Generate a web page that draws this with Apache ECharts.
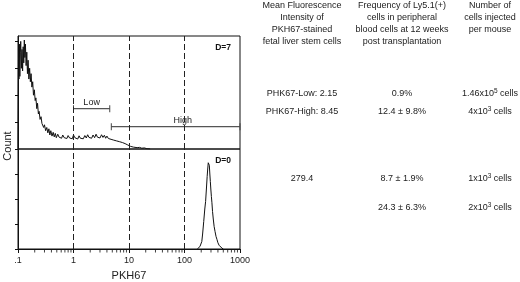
<!DOCTYPE html>
<html>
<head>
<meta charset="utf-8">
<script src="https://cdn.jsdelivr.net/npm/echarts@6/dist/echarts.min.js"></script>
<style>
  html, body { margin: 0; padding: 0; background: #fff; }
  #chart { width: 520px; height: 282px; }
</style>
</head>
<body>
<div id="chart"></div>
<script>
// PKH67 histograms, D=7 (top) and D=0 (bottom)
const xTickLabels = ['.1', '1', '10', '100', '1000']
const yTicks = [0, 1, 2, 3, 4]
const minorTicks = [0.2, 0.3, 0.4, 0.5, 0.6, 0.7, 0.8, 0.9, 2, 3, 4, 5, 6, 7, 8, 9,
  20, 30, 40, 50, 60, 70, 80, 90, 200, 300, 400, 500, 600, 700, 800, 900]
const dashedAt = [1, 10, 100]

const d7Histogram = [
  [0.100, 0], [0.102, 3.3], [0.104, 2.6], [0.106, 3.9], [0.108, 2.7], [0.110, 3.6], [0.112, 4.0],
  [0.115, 3.0], [0.118, 3.7], [0.121, 2.9], [0.124, 3.8], [0.127, 3.2], [0.130, 4.05], [0.133, 3.4],
  [0.136, 3.9], [0.140, 3.1], [0.144, 3.6], [0.148, 2.8], [0.152, 3.3], [0.157, 2.6], [0.162, 3.0],
  [0.167, 2.5], [0.172, 2.8], [0.178, 2.3], [0.184, 2.5], [0.19, 2.0], [0.197, 2.2], [0.204, 1.8],
  [0.21, 1.9], [0.218, 1.5], [0.225, 1.7], [0.233, 1.3], [0.24, 1.4], [0.25, 1.1], [0.26, 1.2],
  [0.27, 0.95], [0.28, 1.0], [0.29, 0.8], [0.30, 0.9], [0.315, 0.68], [0.33, 0.8], [0.345, 0.6],
  [0.36, 0.75], [0.375, 0.52], [0.39, 0.68], [0.41, 0.48], [0.43, 0.62], [0.45, 0.45], [0.47, 0.58],
  [0.49, 0.42], [0.52, 0.55], [0.55, 0.44], [0.58, 0.5], [0.61, 0.4], [0.64, 0.52], [0.68, 0.42],
  [0.72, 0.48], [0.76, 0.39], [0.8, 0.5], [0.85, 0.41], [0.9, 0.47], [0.95, 0.38], [1.0, 0.52],
  [1.06, 0.42], [1.12, 0.46], [1.19, 0.37], [1.26, 0.49], [1.33, 0.4], [1.41, 0.47], [1.5, 0.38],
  [1.6, 0.5], [1.7, 0.41], [1.8, 0.53], [1.9, 0.43], [2.0, 0.49], [2.12, 0.4], [2.25, 0.52],
  [2.4, 0.42], [2.55, 0.55], [2.7, 0.44], [2.85, 0.5], [3.0, 0.41], [3.2, 0.53], [3.4, 0.43],
  [3.6, 0.51], [3.8, 0.4], [4.0, 0.48], [4.25, 0.39], [4.5, 0.46], [4.75, 0.36], [5.0, 0.42],
  [5.3, 0.33], [5.6, 0.38], [6.0, 0.3], [6.4, 0.34], [6.8, 0.27], [7.2, 0.3], [7.6, 0.24],
  [8.0, 0.28], [8.5, 0.2], [9.0, 0.26], [9.5, 0.15], [10, 0.18], [10.6, 0.1], [11.3, 0.13],
  [12, 0.07], [13, 0.09], [14, 0.05], [15.5, 0.06], [17, 0.03], [19, 0.04], [21, 0.01], [24, 0]
]

const d0Histogram = [
  [170, 0], [180, 0.05], [190, 0.1], [198, 0.06], [205, 0.3], [212, 0.6], [222, 1.1], [232, 1.6],
  [240, 1.9], [248, 2.4], [256, 2.9], [262, 3.2], [268, 3.45], [274, 3.5], [280, 3.35], [286, 3.0],
  [292, 2.7], [298, 2.4], [305, 2.1], [312, 1.85], [320, 1.5], [330, 1.2], [342, 0.9], [355, 0.7],
  [370, 0.5], [385, 0.38], [400, 0.25], [420, 0.15], [445, 0.08], [470, 0.04], [500, 0]
]

// gates drawn on the D=7 panel
const gateNames = ['Low', 'High']
const gateFrom = [1, 4.8]
const gateTo = [4.5, 1000]
const gateLevel = [1.5, 0.83]

// table to the right
const tableHeaders = [
  'Mean Fluorescence\nIntensity of\nPKH67-stained\nfetal liver stem cells',
  'Frequency of Ly5.1(+)\ncells in peripheral\nblood cells at 12 weeks\npost transplantation',
  'Number of\ncells injected\nper mouse'
]
const mfiColumn = ['PHK67-Low: 2.15', 'PHK67-High: 8.45', '279.4', '']
const freqColumn = ['0.9%', '12.4 \u00b1 9.8%', '8.7 \u00b1 1.9%', '24.3 \u00b1 6.3%']
const cellsBase = ['1.46x10', '4x10', '1x10', '2x10']
const cellsExp = ['5', '3', '3', '3']

const ink = '#111'
const font = 'Liberation Sans, Arial, Helvetica, sans-serif'
const colX = [302, 402, 490]
const rowY = [94, 112, 179, 208]

const chart = echarts.init(document.getElementById('chart'))

function xAxisFor(gridIndex, withLabels) {
  return {
    type: 'log',
    logBase: 10,
    gridIndex,
    min: 0.1,
    max: 1000,
    axisLine: { show: withLabels, lineStyle: { color: ink, width: 1 } },
    axisTick: { show: withLabels, length: 4, lineStyle: { color: ink } },
    axisLabel: {
      show: withLabels,
      color: '#222',
      fontSize: 9,
      fontFamily: font,
      margin: 7,
      formatter: (v, i) => xTickLabels[i]
    },
    splitLine: { show: false },
    name: withLabels ? 'PKH67' : '',
    nameLocation: 'middle',
    nameGap: 21,
    nameTextStyle: { fontSize: 11, color: '#222', fontFamily: font }
  }
}

function yAxisFor(gridIndex, max) {
  return {
    type: 'value',
    gridIndex,
    min: 0,
    max,
    axisLine: { show: true, lineStyle: { color: ink } },
    axisTick: { show: true, length: 3, customValues: yTicks, lineStyle: { color: ink } },
    axisLabel: { show: false },
    splitLine: { show: false }
  }
}

const dashedLines = {
  silent: true,
  symbol: ['none', 'none'],
  label: { show: false },
  lineStyle: { color: '#222', type: [6, 3], width: 1 },
  data: dashedAt.map(v => ({ xAxis: v }))
}

const tableGraphics = []
tableHeaders.forEach((t, i) => {
  tableGraphics.push({
    type: 'text', x: colX[i], y: 0,
    style: { text: t, align: 'center', verticalAlign: 'top', fill: '#222', font: '9px ' + font, lineHeight: 12 }
  })
})
rowY.forEach((y, r) => {
  const cells = [
    mfiColumn[r],
    freqColumn[r],
    '{b|' + cellsBase[r] + '}{s|' + cellsExp[r] + '}{b| cells}'
  ]
  cells.forEach((text, i) => {
    if (!text) return
    tableGraphics.push({
      type: 'text', x: colX[i], y,
      style: {
        text, align: 'center', verticalAlign: 'middle', fill: '#222',
        font: '9px ' + font,
        rich: {
          b: { fontSize: 9, fontFamily: font, fill: '#222', lineHeight: 12, verticalAlign: 'middle' },
          s: { fontSize: 6.5, fontFamily: font, fill: '#222', lineHeight: 12, verticalAlign: 'top' }
        }
      }
    })
  })
})

chart.setOption({
  animation: false,
  textStyle: { fontFamily: font },
  grid: [
    { left: 18, right: 280, top: 36, height: 113, show: true, borderColor: ink, borderWidth: 1 },
    { left: 18, right: 280, top: 149, height: 107, show: true, borderColor: ink, borderWidth: 1 }
  ],
  xAxis: [xAxisFor(0, false), xAxisFor(1, true)],
  yAxis: [yAxisFor(0, 4.2), yAxisFor(1, 4)],
  title: [
    { text: 'D=7', right: 284, top: 38, textStyle: { fontSize: 8.5, fontWeight: 'bold', color: '#111', fontFamily: font } },
    { text: 'D=0', right: 284, top: 151, textStyle: { fontSize: 8.5, fontWeight: 'bold', color: '#111', fontFamily: font } }
  ],
  graphic: [
    {
      type: 'text', x: 8, y: 146, rotation: Math.PI / 2,
      style: { text: 'Count', align: 'center', verticalAlign: 'middle', fill: '#222', font: '11px ' + font }
    },
    ...tableGraphics
  ],
  series: [
    {
      type: 'line', xAxisIndex: 0, yAxisIndex: 0, data: d7Histogram,
      showSymbol: false, lineStyle: { color: ink, width: 1 },
      markLine: dashedLines
    },
    {
      type: 'line', xAxisIndex: 1, yAxisIndex: 1, data: d0Histogram,
      showSymbol: false, lineStyle: { color: ink, width: 1 },
      markLine: dashedLines
    },
    ...gateNames.map((name, i) => ({
      type: 'line', xAxisIndex: 0, yAxisIndex: 0,
      data: [[gateFrom[i], gateLevel[i]], [gateTo[i], gateLevel[i]]],
      symbol: 'rect', symbolSize: [1, 7], showSymbol: true,
      itemStyle: { color: '#444' },
      lineStyle: { color: '#555', width: 1.2 },
      markLine: {
        silent: true, symbol: ['none', 'none'],
        lineStyle: { color: 'rgba(0,0,0,0)', width: 1 },
        label: {
          show: true, position: 'middle', formatter: name, color: '#222',
          fontSize: 9, fontFamily: font, distance: 2, offset: [i === 1 ? 7 : 0, 0]
        },
        data: [[{ coord: [gateFrom[i], gateLevel[i]] }, { coord: [gateTo[i], gateLevel[i]] }]]
      }
    })),
    {
      type: 'scatter', xAxisIndex: 1, yAxisIndex: 1, clip: false,
      data: minorTicks.map(v => [v, 0]),
      symbol: 'rect', symbolSize: [1, 3], symbolOffset: [0, 2],
      itemStyle: { color: ink }, silent: true
    }
  ]
})
</script>
</body>
</html>
